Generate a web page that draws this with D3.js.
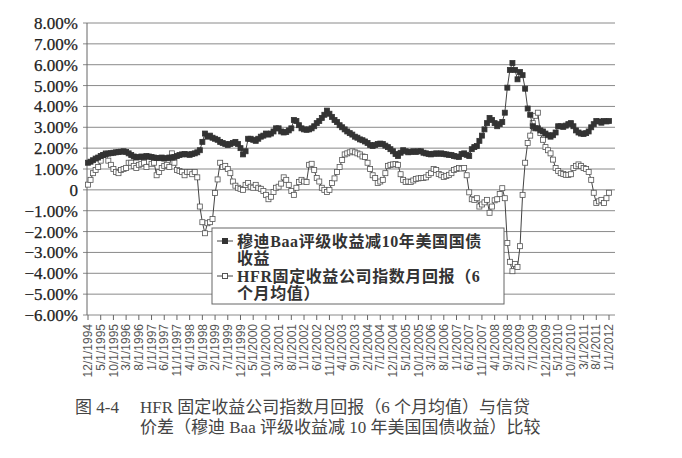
<!DOCTYPE html>
<html>
<head>
<meta charset="utf-8">
<script src="https://cdn.jsdelivr.net/npm/d3@7"></script>
<style>
  body { margin: 0; background: #fff; }
</style>
</head>
<body>
<div id="chart"></div>
<script>
//  Category tick labels (every 5th month)
var tickLabels = ["12/1/1994","5/1/1995","10/1/1995","3/1/1996","8/1/1996","1/1/1997","6/1/1997",
  "11/1/1997","4/1/1998","9/1/1998","2/1/1999","7/1/1999","12/1/1999","5/1/2000","10/1/2000",
  "3/1/2001","8/1/2001","1/1/2002","6/1/2002","11/1/2002","4/1/2003","9/1/2003","2/1/2004",
  "7/1/2004","12/1/2004","5/1/2005","10/1/2005","3/1/2006","8/1/2006","1/1/2007","6/1/2007",
  "11/1/2007","4/1/2008","9/1/2008","2/1/2009","7/1/2009","12/1/2009","5/1/2010","10/1/2010",
  "3/1/2011","8/1/2011","1/1/2012"];

//  Monthly values, 12/1994 .. 1/2012 (percent)
var baaSpread = [1.30,
  1.35,1.42,1.50,1.55,1.62,1.67,1.72,1.74,1.76,1.78,1.80,1.82,
  1.83,1.85,1.82,1.75,1.67,1.60,1.55,1.58,1.60,1.57,1.62,1.60,
  1.58,1.55,1.53,1.52,1.55,1.50,1.52,1.55,1.55,1.58,1.62,1.67,
  1.70,1.72,1.70,1.68,1.72,1.75,1.80,1.90,2.30,2.70,2.55,2.60,
  2.50,2.45,2.40,2.30,2.25,2.20,2.15,2.20,2.25,2.30,2.20,2.00,
  1.70,1.85,2.45,2.45,2.40,2.35,2.45,2.55,2.60,2.70,2.65,2.70,
  2.80,2.95,2.95,2.80,2.75,2.77,2.85,2.95,3.35,3.30,3.10,2.95,
  2.90,2.88,2.90,2.95,3.05,3.20,3.30,3.45,3.60,3.80,3.65,3.50,
  3.35,3.25,3.10,3.00,2.90,2.80,2.72,2.65,2.55,2.50,2.42,2.38,
  2.32,2.25,2.15,2.10,2.15,2.20,2.22,2.20,2.12,2.05,1.95,1.85,
  1.72,1.62,1.78,1.90,1.85,1.80,1.82,1.85,1.82,1.85,1.85,1.78,
  1.75,1.72,1.70,1.73,1.75,1.73,1.75,1.72,1.70,1.68,1.67,1.62,
  1.60,1.58,1.72,1.75,1.68,1.62,1.95,2.05,2.10,2.35,2.60,2.90,
  3.20,3.45,3.35,3.20,3.05,3.15,3.25,3.70,4.90,5.75,6.08,5.75,
  5.30,5.65,5.50,4.85,3.90,3.60,3.05,2.95,2.95,2.85,2.80,2.70,
  2.62,2.55,2.62,2.75,3.05,3.05,3.02,3.08,3.15,3.20,3.05,2.85,
  2.75,2.70,2.68,2.72,2.80,3.00,3.15,3.30,3.28,3.22,3.30,3.28,
  3.30];

var hfrReturn = [0.25,
  0.48,0.80,0.95,1.10,1.40,1.67,1.75,1.40,1.20,1.00,0.86,0.80,
  0.95,1.00,1.05,1.30,1.30,1.15,1.05,1.20,1.25,1.30,1.10,1.35,
  1.25,1.30,0.70,0.86,1.05,1.15,1.20,1.10,1.75,1.30,0.95,0.90,
  0.86,0.70,0.86,0.86,0.75,0.86,0.60,-0.80,-1.55,-2.08,-1.60,-1.55,
  -1.40,-0.15,0.50,1.30,1.10,1.15,1.00,0.80,0.40,0.20,0.10,0.05,
  0.00,0.24,0.33,0.15,0.10,0.24,0.10,0.05,-0.05,-0.24,-0.45,-0.33,
  -0.10,0.10,0.15,0.30,0.60,0.48,0.24,-0.05,-0.24,0.10,0.38,0.48,
  0.40,0.38,1.20,1.25,0.95,0.57,0.40,0.10,0.00,-0.10,0.00,0.33,
  0.55,0.86,1.10,1.43,1.70,1.75,1.80,1.85,1.80,1.75,1.70,1.60,
  1.58,1.30,1.00,0.70,0.57,0.33,0.40,0.48,0.80,1.15,1.20,1.22,
  1.24,1.20,0.75,0.48,0.38,0.40,0.38,0.45,0.52,0.55,0.57,0.57,
  0.60,0.72,0.80,1.00,0.95,0.76,0.70,0.62,0.67,0.72,0.80,0.95,
  1.00,1.05,1.02,1.05,0.70,-0.12,-0.45,-0.48,-0.40,-0.80,-0.70,-0.60,
  -0.48,-1.10,-0.80,-0.50,-0.45,-0.20,0.08,-0.40,-2.55,-3.45,-3.90,-3.55,
  -3.70,-2.70,-0.24,1.30,2.25,2.60,3.20,3.55,3.70,2.72,2.40,2.05,
  1.90,1.75,1.45,1.05,0.90,0.80,0.76,0.72,0.72,0.75,1.05,1.15,
  1.22,1.15,1.05,1.00,0.86,0.48,-0.14,-0.63,-0.55,-0.48,-0.63,-0.40,
  -0.14];

//  Value axis
var yTicks = [8, 7, 6, 5, 4, 3, 2, 1, 0, -1, -2, -3, -4, -5, -6];

//  Legend and caption text
var legendBaa = ["穆迪Baa评级收益减10年美国国债", "收益"];
var legendHfr = ["HFR固定收益公司指数月回报（6", "个月均值）"];
var captionLines = [
  ["图 4-4", "HFR 固定收益公司指数月回报（6 个月均值）与信贷"],
  ["", "价差（穆迪 Baa 评级收益减 10 年美国国债收益）比较"]
];

// ---------------------------------------------------------------------------------- //

var width = 682;
var height = 458;
var serif = "'Liberation Serif','Noto Sans CJK SC',serif";

var svg = d3.select("#chart")
  .append("svg")
  .attr("width", width)
  .attr("height", height);

var x = d3.scaleLinear()
  .domain([0, baaSpread.length - 1])
  .range([88, 609]);

var y = d3.scaleLinear()
  .domain([-6, 8])
  .range([315, 23]);

var left = 87, right = 615;

//  Grid lines
svg.append("g")
  .selectAll("line")
  .data(yTicks)
  .enter().append("line")
  .attr("x1", left - 4)
  .attr("x2", right)
  .attr("y1", function(d) { return y(d); })
  .attr("y2", function(d) { return y(d); })
  .style("stroke", "#8a8a8a")
  .style("stroke-width", 1);

//  Value axis line
svg.append("line")
  .attr("x1", left).attr("x2", left)
  .attr("y1", y(8)).attr("y2", y(-6))
  .style("stroke", "#666")
  .style("stroke-width", 1);

//  Value labels
svg.append("g")
  .selectAll("text")
  .data(yTicks)
  .enter().append("text")
  .attr("x", 78)
  .attr("y", function(d) { return y(d); })
  .attr("dy", "0.35em")
  .attr("text-anchor", "end")
  .style("font-family", serif)
  .style("font-size", "17px")
  .style("fill", "#222")
  .style("stroke", "#222")
  .style("stroke-width", 0.25)
  .text(function(d) {
    if (d === 0) return "0";
    return (d < 0 ? "\u2212" : "") + Math.abs(d).toFixed(2) + "%";
  });

//  Category ticks and labels
var tickIdx = tickLabels.map(function(d, i) { return i * 5; });

svg.append("g")
  .selectAll("line")
  .data(tickIdx)
  .enter().append("line")
  .attr("x1", function(d) { return x(d); })
  .attr("x2", function(d) { return x(d); })
  .attr("y1", y(-6))
  .attr("y2", y(-6) + 5)
  .style("stroke", "#666");

svg.append("g")
  .selectAll("text")
  .data(tickLabels)
  .enter().append("text")
  .attr("transform", function(d, i) {
    return "translate(" + x(tickIdx[i]) + "," + 324 + ") rotate(-90)";
  })
  .attr("dy", "0.35em")
  .attr("text-anchor", "end")
  .style("font-family", "'Liberation Sans',Arial,sans-serif")
  .style("font-size", "12px")
  .style("fill", "#555")
  .text(function(d) { return d; });

//  Series
var line = d3.line()
  .x(function(d, i) { return x(i); })
  .y(function(d) { return y(d); });

function drawSeries(values, fill, stroke) {
  var g = svg.append("g");
  g.append("path")
    .attr("d", line(values))
    .style("fill", "none")
    .style("stroke", "#444")
    .style("stroke-width", 1);
  g.selectAll("rect")
    .data(values)
    .enter().append("rect")
    .attr("x", function(d, i) { return x(i) - 2.5; })
    .attr("y", function(d) { return y(d) - 2.5; })
    .attr("width", 5)
    .attr("height", 5)
    .style("fill", fill)
    .style("stroke", stroke)
    .style("stroke-width", 0.8);
}

drawSeries(hfrReturn, "#fff", "#555");
drawSeries(baaSpread, "#333", "#333");

//  Legend
var legend = svg.append("g");

legend.append("rect")
  .attr("x", 212).attr("y", 228)
  .attr("width", 292).attr("height", 76)
  .style("fill", "#fff")
  .style("stroke", "#666");

function legendEntry(lines, top, fill) {
  legend.append("line")
    .attr("x1", 217).attr("x2", 233)
    .attr("y1", top).attr("y2", top)
    .style("stroke", "#444");
  legend.append("rect")
    .attr("x", 222.5).attr("y", top - 2.5)
    .attr("width", 5).attr("height", 5)
    .style("fill", fill)
    .style("stroke", fill === "#fff" ? "#555" : "#333");
  legend.selectAll(null)
    .data(lines)
    .enter().append("text")
    .attr("x", 237)
    .attr("y", function(d, i) { return top + i * 17.5; })
    .attr("dy", "0.35em")
    .style("font-family", serif)
    .style("font-weight", "bold")
    .style("font-size", "16px")
    .style("letter-spacing", "0.6px")
    .style("fill", "#333")
    .text(function(d) { return d; });
}

legendEntry(legendBaa, 241, "#333");
legendEntry(legendHfr, 276, "#fff");

//  Caption
captionLines.forEach(function(row, i) {
  var yy = 413 + i * 20;
  svg.append("text")
    .attr("x", 75).attr("y", yy)
    .style("font-family", serif)
    .style("font-size", "17px")
    .style("fill", "#444")
    .text(row[0]);
  svg.append("text")
    .attr("x", 140).attr("y", yy)
    .style("font-family", serif)
    .style("font-size", "17px")
    .style("fill", "#444")
    .text(row[1]);
});
</script>
</body>
</html>
